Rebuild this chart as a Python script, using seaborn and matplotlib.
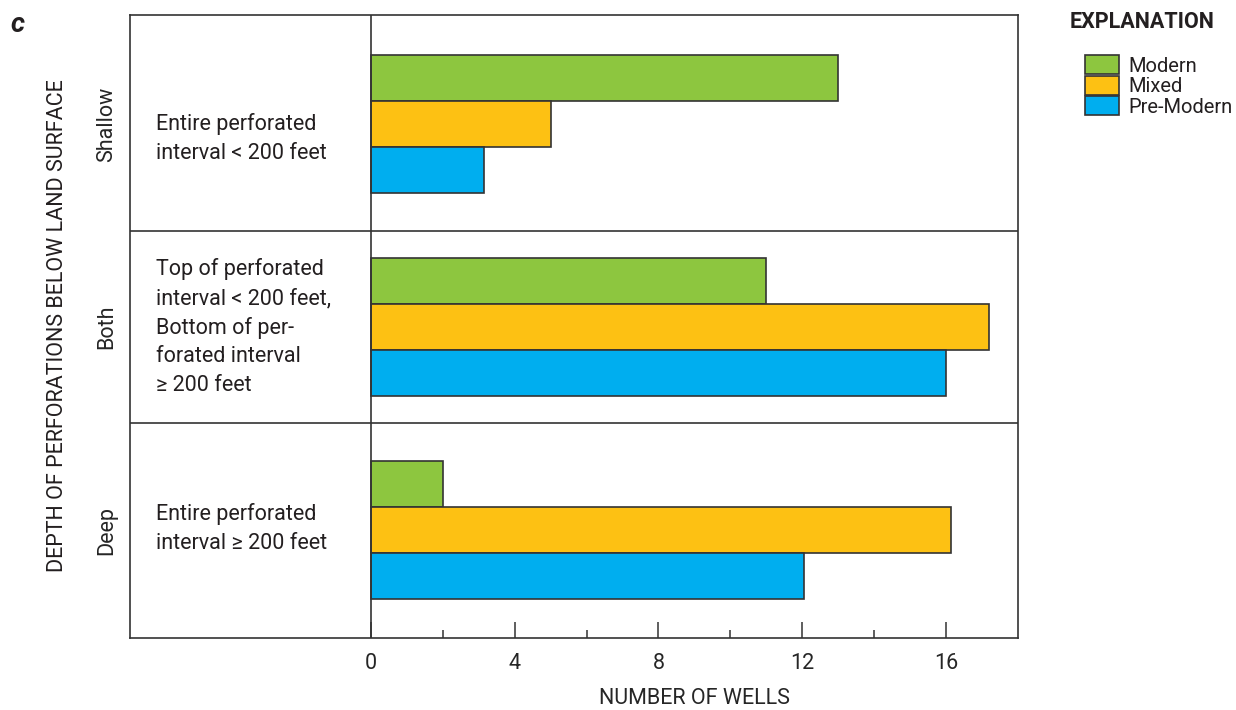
import matplotlib
matplotlib.use("Agg")
import matplotlib.pyplot as plt
import seaborn as sns
import pandas as pd

# Data
depths = ["Shallow", "Both", "Deep"]
ages = ["Modern", "Mixed", "Pre-Modern"]
modern = [13, 11, 2]
mixed = [5, 17.2, 16.15]
pre_modern = [3.15, 16, 12.05]
descriptions = [
    "Entire perforated\ninterval < 200 feet",
    "Top of perforated\ninterval < 200 feet,\nBottom of per-\nforated interval\n\u2265 200 feet",
    "Entire perforated\ninterval \u2265 200 feet",
]
colors = ["#8DC63F", "#FDC113", "#00AEEF"]

df = pd.DataFrame({
    "depth": depths * 3,
    "age": [a for a in ages for _ in depths],
    "wells": modern + mixed + pre_modern,
})

sns.set_theme(style="white")
plt.rcParams["font.family"] = ["Roboto", "DejaVu Sans"]
plt.rcParams["text.color"] = "#231F20"

fig = plt.figure(figsize=(12.36, 7.10), dpi=100)
ax = fig.add_axes([130 / 1236, 1 - 638 / 710, 888 / 1236, 623 / 710])

sns.barplot(data=df, x="wells", y="depth", hue="age", order=depths, hue_order=ages,
            palette=colors, orient="h", width=0.68, edgecolor="#333333", linewidth=1.2,
            saturation=1, legend=True, ax=ax)

ax.set_xlim(-6.7, 18)
ax.set_ylim(2.53, -0.537)

for s in ax.spines.values():
    s.set_color("#333333")
    s.set_linewidth(1.2)

ax.axvline(0, color="#333333", lw=1.2)
for yy in [0.527, 1.473]:
    ax.axhline(yy, color="#333333", lw=1.2)

ax.set_xticks([0, 4, 8, 12, 16])
ax.set_xticks([2, 6, 10, 14], minor=True)
ax.tick_params(axis="x", which="major", direction="in", length=11.5, width=1.1,
               color="#333333", labelsize=15.5, pad=11, bottom=True)
ax.tick_params(axis="x", which="minor", direction="in", length=5.8, width=1.1,
               color="#333333", bottom=True)

ax.set_yticks(range(len(depths)))
ax.set_yticklabels(depths, rotation=90, va="center", ha="center", fontsize=15.5)
ax.tick_params(axis="y", length=0, pad=17)

ax.set_xlabel("NUMBER OF WELLS", fontsize=15.5)
ax.xaxis.set_label_coords((694 - 130) / 888, -0.081)
ax.set_ylabel("")

offsets = [0.07, 0.0, -0.01]
for i, txt in enumerate(descriptions):
    ax.text(-5.97, i + offsets[i], txt, ha="left", va="center", fontsize=15.5,
            linespacing=1.47)

fig.text(58 / 1236, 1 - 326 / 710, "DEPTH OF PERFORATIONS BELOW LAND SURFACE",
         rotation=90, ha="center", va="center", fontsize=15.5)
fig.text(11 / 1236, 1 - 24 / 710, "c", fontsize=20, fontweight="bold", style="italic",
         ha="left", va="center")
fig.text(1070 / 1236, 1 - 22 / 710, "EXPLANATION", fontsize=15.5, fontweight="bold",
         ha="left", va="center")

ax.legend(loc="upper left", bbox_to_anchor=(1085 / 1236, 1 - 55 / 710),
          bbox_transform=fig.transFigure, frameon=False, fontsize=14.5,
          handlelength=1.7, handleheight=1.1, labelspacing=0.0, handletextpad=0.45,
          borderpad=0, borderaxespad=0, title=None)

fig.savefig("out.png", dpi=100)
